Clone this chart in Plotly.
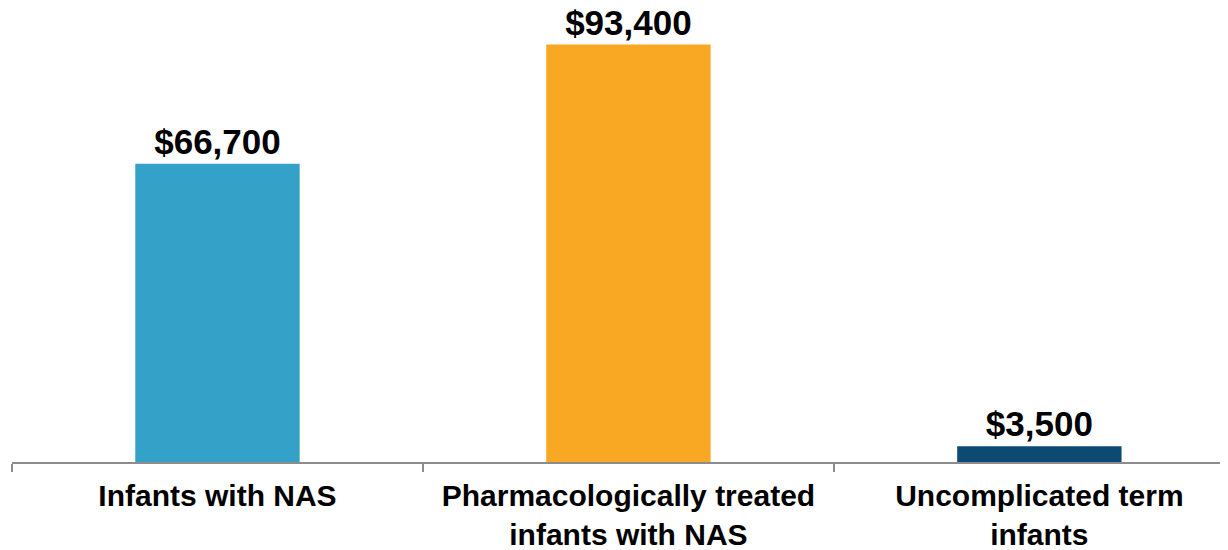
import plotly.graph_objects as go

categories = ["Infants with NAS", "Pharmacologically treated<br>infants with NAS", "Uncomplicated term<br>infants"]
values = [66700, 93400, 3500]
value_labels = ["$66,700", "$93,400", "$3,500"]
colors = ["#34A2C8", "#F8A823", "#0C4A74"]

fig = go.Figure(go.Bar(
    x=categories,
    y=values,
    text=value_labels,
    textposition="outside",
    textfont=dict(family="Liberation Sans", size=35, color="#000000", weight="bold"),
    marker=dict(color=colors, line=dict(width=0)),
    constraintext="none",
    cliponaxis=False,
    hoverinfo="skip",
))

fig.update_layout(
    width=1220, height=542,
    margin=dict(l=4, r=0, t=7, b=88, autoexpand=False),
    paper_bgcolor="white", plot_bgcolor="white",
    bargap=0.6,
    showlegend=False,
    font=dict(family="Liberation Sans", color="#000000"),
)
fig.update_xaxes(
    type="category",
    range=[-0.5, 2.459],
    automargin=False,
    tickson="boundaries",
    ticks="outside", ticklen=8, tickwidth=2, tickcolor="#8C8C8C",
    showline=True, linecolor="#8C8C8C", linewidth=2,
    showgrid=False,
    ticklabelstandoff=6,
    tickfont=dict(family="Liberation Sans", size=30, color="#000000", weight="bold"),
)
fig.update_yaxes(
    range=[0, 100000],
    visible=False,
    automargin=False,
    showgrid=False,
    zeroline=False,
)

fig.write_html("out.html")
